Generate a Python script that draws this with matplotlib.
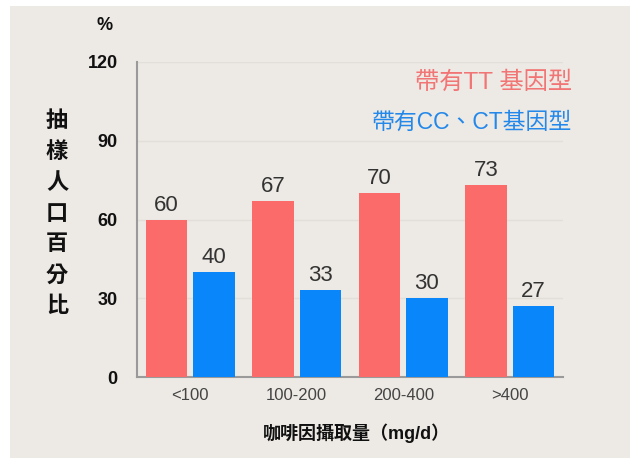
import matplotlib
matplotlib.use('Agg')
import matplotlib.pyplot as plt
from matplotlib.patches import Rectangle
import numpy as np

plt.rcParams['font.family'] = ['Liberation Sans', 'Noto Sans CJK TC', 'DejaVu Sans']

# data
categories = ['<100', '100-200', '200-400', '>400']
tt_values = [60, 67, 70, 73]
cc_ct_values = [40, 33, 30, 27]
y_ticks = [0, 30, 60, 90, 120]
series_names = ['帶有TT 基因型', '帶有CC、CT基因型']
y_label = '抽樣人口百分比'
x_label = '咖啡因攝取量（mg/d）'

red = '#fb6b69'
blue = '#0a86fb'

fig = plt.figure(figsize=(6.3, 4.59), dpi=100)
fig.patch.set_facecolor('white')
# beige photo background
fig.patches.append(Rectangle((10/630, 1/459), 1 - 10/630, 1 - 7/459,
                             transform=fig.transFigure, facecolor='#ede9e4',
                             edgecolor='none', zorder=-10))

ax = fig.add_axes([137/630, 1 - 377/459, (563 - 137)/630, (377 - 62)/459])
ax.set_facecolor('none')

x = np.arange(len(categories))
w = 0.39
off = 0.222
b1 = ax.bar(x - off, tt_values, w, color=red, zorder=3)
b2 = ax.bar(x + off, cc_ct_values, w, color=blue, zorder=3)

for bars, vals in ((b1, tt_values), (b2, cc_ct_values)):
    for b, v in zip(bars, vals):
        ax.text(b.get_x() + b.get_width()/2, v + 1.5, str(v), ha='center', va='bottom',
                fontsize=16, color='#333333')

ax.set_xlim(-0.5, 3.5)
ax.set_ylim(0, 120)
ax.set_yticks(y_ticks)
ax.set_yticklabels([str(t) for t in y_ticks], fontsize=13, fontweight='bold', color='#111111')
ax.set_xticks(x)
ax.set_xticklabels(categories, fontsize=12, color='#444444')
ax.tick_params(axis='y', length=0, pad=14)
ax.tick_params(axis='x', length=0, pad=8)
ax.yaxis.grid(True, color='#e2ded8', lw=1, zorder=0)
ax.set_axisbelow(True)

for s in ('top', 'right'):
    ax.spines[s].set_visible(False)
ax.spines['left'].set_color('#9a9a9a')
ax.spines['left'].set_linewidth(1.5)
ax.spines['bottom'].set_color('#9a9a9a')
ax.spines['bottom'].set_linewidth(1.5)

# legend texts
fig.text(572/630, 1 - 83/459, series_names[0], ha='right', va='center',
         fontsize=17.5, color='#f27575')
fig.text(572/630, 1 - 122/459, series_names[1], ha='right', va='center',
         fontsize=16.5, color='#2388ea')

# axis titles
fig.text(105/630, 1 - 25/459, '%', ha='center', va='center', fontsize=13,
         fontweight='bold', color='#111111')
fig.text(57/630, 1 - 214/459, '\n'.join(y_label), ha='center', va='center',
         fontsize=16, fontweight='bold', color='#111111', linespacing=1.62)
fig.text(356/630, 1 - 433/459, x_label, ha='center', va='center', fontsize=13,
         fontweight='bold', color='#111111')

fig.savefig('out.png', dpi=100, facecolor=fig.get_facecolor())
